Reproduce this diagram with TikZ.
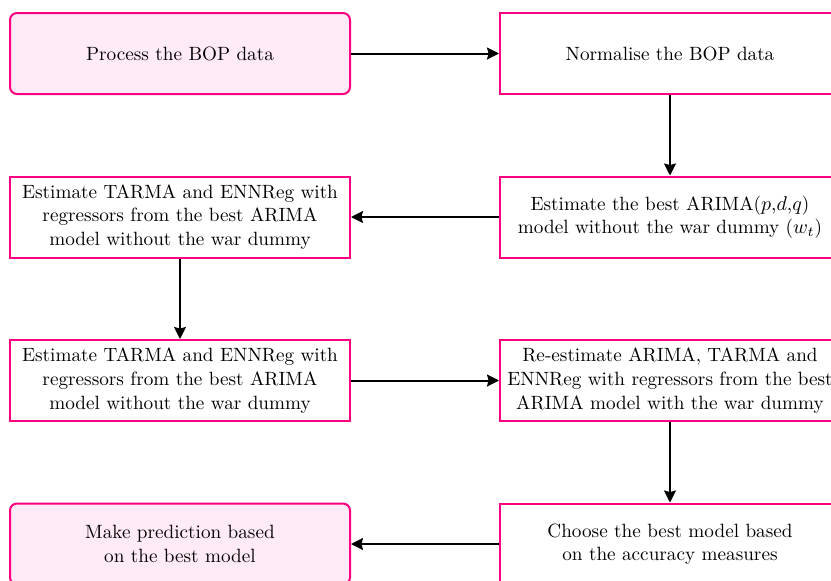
\documentclass[tikz,border=0pt]{standalone}
\usetikzlibrary{arrows.meta}
\definecolor{bdr}{RGB}{250,0,128}
\definecolor{pinkfill}{RGB}{255,235,247}
\begin{document}
\begin{tikzpicture}[x=0.5pt,y=-0.5pt,
  box/.style={draw=bdr,line width=1pt,minimum width=170pt,minimum height=40.5pt,align=center,inner sep=0pt,font=\fontsize{9.6}{11.8}\selectfont},
  endbox/.style={box,fill=pinkfill,rounded corners=3.5pt},
  arr/.style={line width=1pt,-{Stealth[length=6pt,width=6pt,inset=0.8pt]}}]
\useasboundingbox (0,0) rectangle (831,580);
\clip (0,0) rectangle (831,580);
\node[endbox] (a) at (180,53.5) {Process the BOP data};
\node[box] (b) at (670,53.5) {Normalise the BOP data};
\node[box] (c) at (670,217) {Estimate the best ARIMA($p$,$d$,$q$)\\model without the war dummy ($w_t$)};
\node[box] (d) at (180,217) {Estimate TARMA and ENNReg with\\regressors from the best ARIMA\\model without the war dummy};
\node[box] (e) at (180,380.5) {Estimate TARMA and ENNReg with\\regressors from the best ARIMA\\model without the war dummy};
\node[box] (f) at (670,380.5) {Re-estimate ARIMA, TARMA and\\ENNReg with regressors from the best\\ARIMA model with the war dummy};
\node[box] (g) at (670,544) {Choose the best model based\\on the accuracy measures};
\node[endbox] (h) at (180,544) {Make prediction based\\on the best model};
\draw[arr] (a) -- (b);
\draw[arr] (b) -- (c);
\draw[arr] (c) -- (d);
\draw[arr] (d) -- (e);
\draw[arr] (e) -- (f);
\draw[arr] (f) -- (g);
\draw[arr] (g) -- (h);
\end{tikzpicture}
\end{document}
